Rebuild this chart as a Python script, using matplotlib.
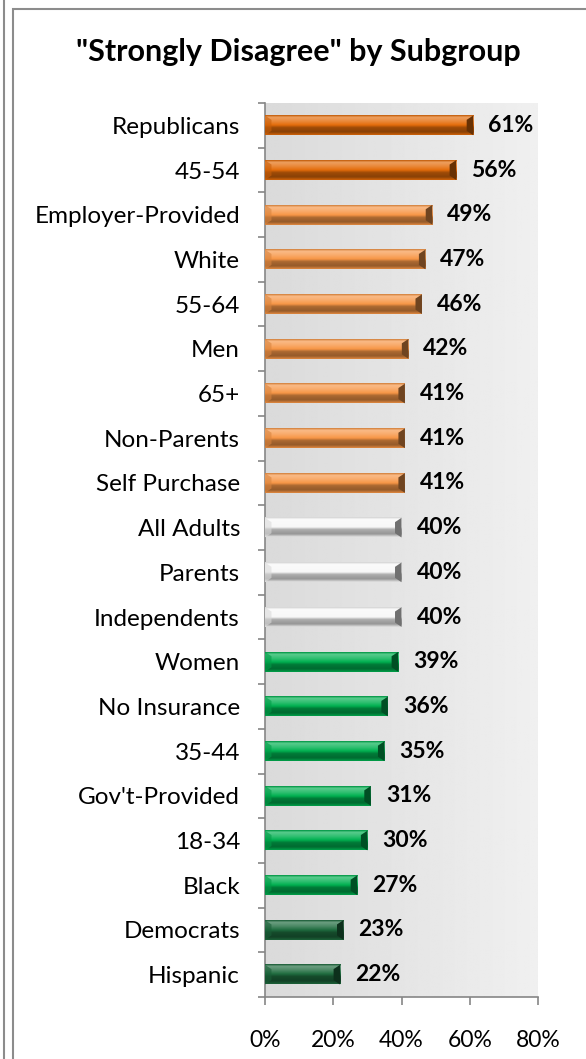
import numpy as np
import matplotlib
matplotlib.use('Agg')
import matplotlib.pyplot as plt
from matplotlib.colors import to_rgb
from matplotlib.patches import Rectangle, Polygon
from matplotlib.lines import Line2D
from matplotlib.ticker import FixedLocator, PercentFormatter

plt.rcParams['font.family'] = ['Lato', 'DejaVu Sans']

# ── Data ──────────────────────────────────────────────────────────────────────
groups = ['Republicans', '45-54', 'Employer-Provided', 'White', '55-64', 'Men',
          '65+', 'Non-Parents', 'Self Purchase', 'All Adults', 'Parents',
          'Independents', 'Women', 'No Insurance', '35-44', "Gov't-Provided",
          '18-34', 'Black', 'Democrats', 'Hispanic']
pct = [61, 56, 49, 47, 46, 42, 41, 41, 41, 40, 40, 40, 39, 36, 35, 31, 30, 27, 23, 22]
tier = ['hi', 'hi', 'up', 'up', 'up', 'up', 'up', 'up', 'up', 'avg', 'avg', 'avg',
        'low', 'low', 'low', 'low', 'low', 'low', 'lo2', 'lo2']

tier_colors = {'hi': '#E46C0A', 'up': '#F79646', 'avg': '#F8F8F8',
               'low': '#00B050', 'lo2': '#1E6B3E'}


def mix(c, other, t):
    c = np.array(c)
    return c + (np.array(other) - c) * t


def bevel_strip(color, n=40):
    """Vertical colour profile of a beveled bar, top row first."""
    c = np.array(to_rgb(color))
    stops = [(0.00, mix(c, (0, 0, 0), 0.15)),
             (0.10, mix(c, (1, 1, 1), 0.35)),
             (0.30, mix(c, (1, 1, 1), 0.20)),
             (0.50, c),
             (0.62, mix(c, (0, 0, 0), 0.30)),
             (0.85, mix(c, (0, 0, 0), 0.40)),
             (1.00, mix(c, (0, 0, 0), 0.10))]
    pos = np.array([s[0] for s in stops])
    cols = np.array([s[1] for s in stops])
    t = np.linspace(0, 1, n)
    prof = np.stack([np.interp(t, pos, cols[:, k]) for k in range(3)], axis=1)
    return prof[:, None, :]


fig = plt.figure(figsize=(5.86, 10.59), dpi=100)

# outer frame lines
fig.add_artist(Line2D([3.5 / 586, 3.5 / 586], [0, 1], color='#8c8c8c', lw=1.5,
                      transform=fig.transFigure))
fig.add_artist(Rectangle((13 / 586, -0.1), 1.2, 1.1 - 8.5 / 1059, fill=False,
                         ec='#8c8c8c', lw=1.5, transform=fig.transFigure))

fig.text(298 / 586, 1 - 52 / 1059, '"Strongly Disagree" by Subgroup',
         ha='center', va='center', fontsize=22, fontweight='bold')

ax = fig.add_axes([265 / 586, 1 - 997 / 1059, 273 / 586, 894 / 1059])
ax.set_facecolor('none')

# light grey gradient behind the bars
bg = np.linspace(0.855, 0.94, 256)
bg = np.tile(bg, (8, 1))
ax.imshow(bg, cmap='gray', vmin=0, vmax=1, extent=(0, 1, 0, 1),
          transform=ax.transAxes, aspect='auto', zorder=0)

y = np.arange(len(groups))
bar_h = 0.44
bars = ax.barh(y, pct, height=bar_h, color=[tier_colors[t] for t in tier],
               zorder=2)

cap = 1.9
for b, t in zip(bars, tier):
    x0, y0 = b.get_x(), b.get_y()
    w, h = b.get_width(), b.get_height()
    col = tier_colors[t]
    ax.imshow(bevel_strip(col), extent=(x0, x0 + w, y0 + h, y0),
              origin='upper', aspect='auto', zorder=3, interpolation='bilinear')
    c = np.array(to_rgb(col))
    e = h * 0.22
    ax.add_patch(Polygon([(x0 + w - cap, y0 + e), (x0 + w, y0), (x0 + w, y0 + h),
                          (x0 + w - cap, y0 + h - e)],
                         closed=True, fc=mix(c, (0, 0, 0), 0.55), ec='none', zorder=4))
    ax.add_patch(Polygon([(x0, y0), (x0 + cap, y0 + e), (x0 + cap, y0 + h - e),
                          (x0, y0 + h)],
                         closed=True, fc=mix(c, (0, 0, 0), 0.12), ec='none',
                         alpha=0.6, zorder=4))
    ax.annotate(f'{w:.0f}%', xy=(x0 + w, y0 + h / 2), xytext=(15, 0),
                textcoords='offset pixels', ha='left', va='center',
                fontsize=16.5, fontweight='bold', zorder=5)

ax.set_xlim(0, 80)
ax.set_ylim(len(groups) - 0.5, -0.5)
ax.set_xticks([0, 20, 40, 60, 80])
ax.xaxis.set_major_formatter(PercentFormatter(decimals=0))
ax.set_yticks(y)
ax.set_yticklabels(groups)
ax.yaxis.set_minor_locator(FixedLocator(np.arange(-0.5, len(groups), 1)))

for side in ('top', 'right'):
    ax.spines[side].set_visible(False)
for side in ('left', 'bottom'):
    ax.spines[side].set_color('#868686')
    ax.spines[side].set_linewidth(1.2)

ax.tick_params(axis='y', which='major', length=0, pad=18, labelsize=17.5)
ax.tick_params(axis='y', which='minor', length=5, width=1.2, color='#868686')
ax.tick_params(axis='x', length=6, width=1.2, color='#868686', pad=18,
               labelsize=16.5)

fig.savefig('out.png', dpi=100)
